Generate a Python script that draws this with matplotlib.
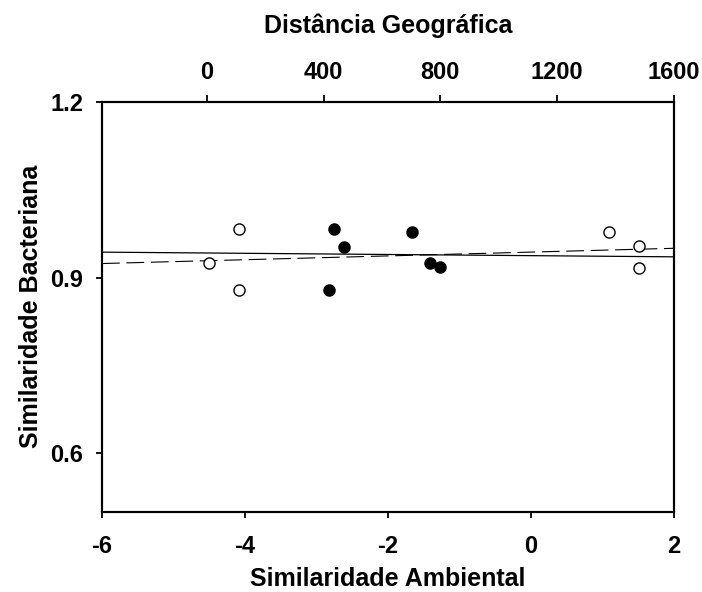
import matplotlib
matplotlib.use('Agg')
import matplotlib.pyplot as plt

plt.rcParams['font.family'] = ['Liberation Sans', 'DejaVu Sans']
plt.rcParams['font.weight'] = 'bold'
plt.rcParams['axes.unicode_minus'] = False

# similaridade ambiental (eixo inferior) x similaridade bacteriana
amb_x = [-2.76, -2.62, -2.83, -1.67, -1.41, -1.27]
amb_y = [0.983, 0.953, 0.879, 0.978, 0.925, 0.918]

# distancia geografica (eixo superior) x similaridade bacteriana
geo_x = [8, 111, 111, 1377, 1481, 1481]
geo_y = [0.925, 0.983, 0.879, 0.978, 0.954, 0.917]

# retas de regressao (intercepto, inclinacao)
amb_fit = (0.9375, -0.001)
geo_fit = (0.9288, 1.33e-5)

amb_lim = (-6, 2)
geo_lim = (-359, 1600)

fig = plt.figure(figsize=(7.02, 5.92), dpi=100)
ax = fig.add_axes([0.1453, 0.1356, 0.8148, 0.6921])
ax2 = ax.twiny()

ax.plot(amb_x, amb_y, 'o', color='black', markersize=8, zorder=3)
ax.plot(amb_lim, [amb_fit[0] + amb_fit[1] * v for v in amb_lim],
        color='black', lw=0.9)

ax2.plot(geo_x, geo_y, 'o', markerfacecolor='white', markeredgecolor='black',
         markersize=8, markeredgewidth=1, zorder=3)
ax2.plot(geo_lim, [geo_fit[0] + geo_fit[1] * v for v in geo_lim],
         color='black', lw=0.8, dashes=(16, 6))

ax.set_xlim(amb_lim)
ax2.set_xlim(geo_lim)
ax.set_ylim(0.5, 1.2)
ax.set_xticks([-6, -4, -2, 0, 2])
ax.set_yticks([0.6, 0.9, 1.2])
ax2.set_xticks([0, 400, 800, 1200, 1600])

for a in (ax, ax2):
    for s in a.spines.values():
        s.set_linewidth(1.5)

ax.tick_params(axis='x', direction='out', length=4, width=1.3, labelsize=17, pad=13)
ax.tick_params(axis='y', direction='out', length=4.5, width=1.3, labelsize=17, pad=9)
ax2.tick_params(axis='x', direction='out', length=5, width=1.3, labelsize=17, pad=8)
for lab in ax.get_xticklabels() + ax.get_yticklabels() + ax2.get_xticklabels():
    lab.set_fontweight('bold')

ax.set_xlabel('Similaridade Ambiental', fontsize=18, fontweight='bold', labelpad=6)
ax.set_ylabel('Similaridade Bacteriana', fontsize=18, fontweight='bold', labelpad=5)
ax2.set_xlabel('Distância Geográfica', fontsize=18, fontweight='bold', labelpad=20)

fig.savefig('out.png', dpi=100)
